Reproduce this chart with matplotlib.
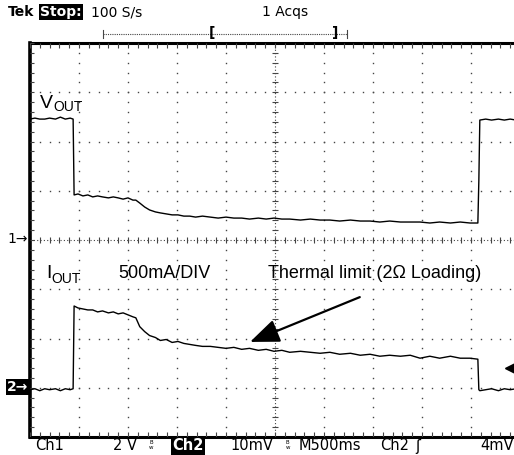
import numpy as np
import matplotlib.pyplot as plt

W, H = 514, 455

# scope record: time (s), Ch1 = VOUT (V), Ch2 = IOUT (A)
t = [0.00, 0.05, 0.10, 0.15, 0.20, 0.26, 0.31, 0.36, 0.41, 0.44,
     0.45, 0.49, 0.54, 0.59, 0.64, 0.69, 0.74, 0.80, 0.85, 0.90, 0.95, 1.00, 1.05, 1.08,
     1.12, 1.17, 1.22, 1.28, 1.33, 1.39, 1.45, 1.51, 1.57, 1.63, 1.69, 1.76,
     1.84, 1.92, 2.00, 2.08, 2.16, 2.24, 2.33, 2.41, 2.49, 2.57, 2.65,
     2.76, 2.86, 2.96, 3.06, 3.16, 3.27, 3.37, 3.47, 3.57, 3.67, 3.78, 3.88,
     3.98, 4.08, 4.18, 4.29, 4.39, 4.49, 4.57,
     4.58, 4.59, 4.65, 4.71, 4.78, 4.84, 4.90, 4.96, 5.00]
vout = [4.91, 4.95, 4.91, 4.91, 4.95, 4.91, 4.99, 4.91, 4.95, 4.91,
        1.83, 1.87, 1.79, 1.83, 1.75, 1.79, 1.75, 1.71, 1.75, 1.71, 1.66, 1.71, 1.62, 1.62,
        1.50, 1.34, 1.22, 1.14, 1.10, 1.06, 1.02, 1.02, 0.97, 0.97, 0.93, 0.97,
        0.93, 0.89, 0.93, 0.89, 0.89, 0.85, 0.89, 0.85, 0.89, 0.85, 0.85,
        0.81, 0.85, 0.81, 0.81, 0.77, 0.81, 0.77, 0.77, 0.73, 0.77, 0.73, 0.73,
        0.73, 0.69, 0.73, 0.69, 0.73, 0.69, 0.69,
        2.40, 4.87, 4.91, 4.87, 4.91, 4.87, 4.91, 4.87, 4.91]
iout = [-0.02, -0.01, -0.03, -0.01, -0.02, -0.01, -0.03, -0.01, -0.02, -0.01,
        0.83, 0.81, 0.80, 0.79, 0.79, 0.77, 0.78, 0.76, 0.77, 0.75, 0.76, 0.74, 0.72, 0.71,
        0.62, 0.57, 0.53, 0.51, 0.48, 0.49, 0.46, 0.47, 0.45, 0.44, 0.43, 0.42,
        0.42, 0.41, 0.40, 0.41, 0.39, 0.40, 0.38, 0.39, 0.37, 0.38, 0.36,
        0.37, 0.36, 0.35, 0.36, 0.34, 0.35, 0.33, 0.34, 0.32, 0.33, 0.32, 0.33,
        0.30, 0.32, 0.30, 0.32, 0.30, 0.30, 0.29,
        -0.02, -0.03, -0.02, -0.01, -0.03, -0.01, -0.02, -0.01, -0.02]

# scope settings
sec_per_div = 0.5
ch1_per_div = 2.0    # V/div
ch2_per_div = 0.5    # A/div (10mV on the sense)
ch1_pos = 4.0        # ground marker, divisions from bottom
ch2_pos = 1.0
trig_level = 0.2     # A

GRID = '#444444'


def fx(x):
    return x / W


def fy(y):
    return 1 - y / H


fig = plt.figure(figsize=(W / 100, H / 100), dpi=100)
ax = fig.add_axes([fx(30), fy(437), 490 / W, 394 / H])
ax.set_xlim(0, 10)
ax.set_ylim(0, 8)
ax.axis('off')

# graticule: dotted division lines
dots_x = np.arange(0, 10.01, 0.2)
dots_y = np.arange(0, 8.01, 0.2)
for gy in [1, 2, 3, 5, 6, 7]:
    ax.plot(dots_x, np.full(len(dots_x), gy), ls='none', marker='s', ms=1.0,
            mew=0, color=GRID)
for gx in [1, 2, 3, 4, 6, 7, 8, 9]:
    ax.plot(np.full(len(dots_y), gx), dots_y, ls='none', marker='s', ms=1.0,
            mew=0, color=GRID)

# centre axes with minor ticks
ax.plot([0, 10], [4, 4], ls=(0, (1, 2)), lw=0.8, color=GRID)
ax.plot([5, 5], [0, 8], ls=(0, (1, 2)), lw=0.8, color=GRID)
ax.vlines(dots_x, 4 - 0.06, 4 + 0.06, lw=0.8, color=GRID)
ax.hlines(dots_y, 5 - 0.06, 5 + 0.06, lw=0.8, color=GRID)

# frame with edge ticks
ax.plot([0, 10.2], [8, 8], lw=2.2, color='black', clip_on=False)
ax.plot([0, 10.2], [0, 0], lw=2.2, color='black', clip_on=False)
ax.plot([0, 0], [0, 8], lw=2.6, color='black', clip_on=False)
ax.vlines(dots_x, 8 - 0.1, 8, lw=0.8, color=GRID)
ax.vlines(dots_x, 0, 0.1, lw=0.8, color=GRID)
ax.hlines(dots_y, 0, 0.08, lw=0.8, color=GRID)

# traces
tx = np.array(t) / sec_per_div
ax.plot(tx, ch1_pos + np.array(vout) / ch1_per_div, color='black', lw=1.0)
ax.plot(tx, ch2_pos + np.array(iout) / ch2_per_div, color='black', lw=1.0)

# annotation arrow
ax.annotate('', xy=(4.49, 1.93), xytext=(6.73, 2.84),
            arrowprops=dict(arrowstyle='-|>,head_length=0.45,head_width=0.18',
                            mutation_scale=40, lw=1.6, color='black',
                            shrinkA=0, shrinkB=0))

lab = dict(family='Liberation Sans', color='black')
fig.text(fx(40), fy(108), 'V', fontsize=14, va='baseline', **lab)
fig.text(fx(53), fy(111), 'OUT', fontsize=10, va='baseline', **lab)
fig.text(fx(46), fy(278), 'I', fontsize=14, va='baseline', **lab)
fig.text(fx(51), fy(283), 'OUT', fontsize=10, va='baseline', **lab)
fig.text(fx(118), fy(278), '500mA/DIV', fontsize=13, va='baseline', **lab)
fig.text(fx(268), fy(278), 'Thermal limit (2\u03a9 Loading)', fontsize=13,
         va='baseline', **lab)

# channel markers
mk = dict(family='DejaVu Sans', fontsize=10, va='center', ha='right')
fig.text(fx(28), fy(239), '1\u2192', **mk)
fig.text(fx(28), fy(387), '2\u2192', color='white', fontweight='bold',
         bbox=dict(boxstyle='square,pad=0.05', fc='black', ec='none'), **mk)
ax.plot(9.8, ch2_pos + trig_level / ch2_per_div, marker='<', ms=7,
        color='black', clip_on=False)

# header
hd = dict(family='DejaVu Sans', fontsize=10, va='center')
fig.text(fx(8), fy(12), 'Tek', fontweight='bold', **hd)
fig.text(fx(40), fy(12), 'Stop:', color='white', fontweight='bold',
         bbox=dict(boxstyle='square,pad=0.1', fc='black', ec='none'), **hd)
fig.text(fx(91), fy(12), '100 S/s', **hd)
fig.text(fx(262), fy(12), '1 Acqs', **hd)

# record position bar
fig.add_artist(plt.Line2D([fx(103), fx(347)], [fy(34), fy(34)], lw=0.8,
                          ls=(0, (1, 1)), color=GRID))
for bx in [103, 347]:
    fig.add_artist(plt.Line2D([fx(bx), fx(bx)], [fy(30), fy(38)], lw=0.8,
                              color=GRID))
fig.text(fx(212), fy(33), '[', fontsize=10, va='center', ha='center',
         family='DejaVu Sans', fontweight='bold')
fig.text(fx(335), fy(33), ']', fontsize=10, va='center', ha='center',
         family='DejaVu Sans', fontweight='bold')

# bottom status line
ft = dict(family='DejaVu Sans', fontsize=10.5, va='center')
fig.text(fx(35), fy(446), 'Ch1', **ft)
fig.text(fx(113), fy(446), '2 V', **ft)
fig.text(fx(149), fy(445), 'B\nw', fontsize=4, linespacing=0.8, va='center',
         family='DejaVu Sans')
fig.text(fx(172), fy(446), 'Ch2', color='white', fontweight='bold',
         bbox=dict(boxstyle='square,pad=0.1', fc='black', ec='none'), **ft)
fig.text(fx(230), fy(446), '10mV', **ft)
fig.text(fx(286), fy(445), 'B\nw', fontsize=4, linespacing=0.8, va='center',
         family='DejaVu Sans')
fig.text(fx(299), fy(446), 'M500ms', **ft)
fig.text(fx(380), fy(446), 'Ch2', **ft)
fig.text(fx(415), fy(446), '\u0283', **ft)
fig.text(fx(480), fy(446), '4mV', **ft)

fig.savefig('out.png', dpi=100, facecolor='white')
